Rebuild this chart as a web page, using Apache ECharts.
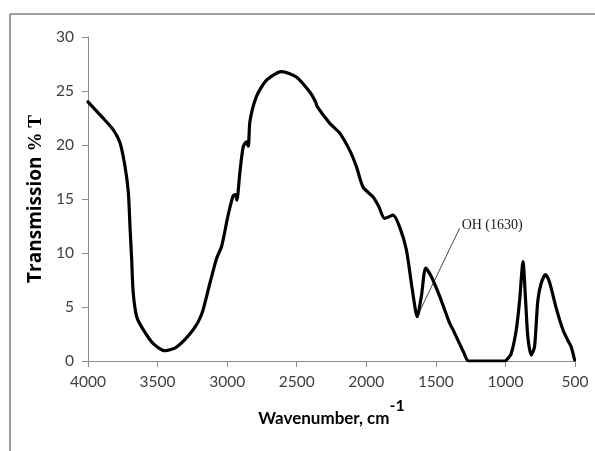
<!DOCTYPE html>
<html>
<head>
<meta charset="utf-8">
<script src="https://cdn.jsdelivr.net/npm/echarts@6/dist/echarts.min.js"></script>
<style>
  html, body { margin: 0; padding: 0; background: #ffffff; }
  #chart { width: 595px; height: 451px; }
</style>
</head>
<body>
<div id="chart"></div>
<script>
// FTIR spectrum: wavenumber (cm^-1) against transmission (%T)
const wavenumbers = [
  4000, 3900, 3818, 3770, 3734, 3710, 3698, 3686, 3675, 3650,
  3603, 3531, 3447, 3363, 3244, 3184, 3124, 3076, 3040, 2993,
  2957, 2940, 2930, 2909, 2885, 2862, 2848, 2836, 2789, 2717,
  2609, 2502, 2406, 2365, 2350, 2262, 2191, 2119, 2071, 2023,
  1952, 1910, 1868, 1808, 1760, 1712, 1676, 1648, 1635, 1604,
  1573, 1532, 1473, 1401, 1377, 1300, 1265, 1006, 985, 958,
  922, 898, 874, 855, 839, 815, 791, 767, 743, 712,
  683, 635, 587, 551, 527, 503
];
const transmission = [
  24.0, 22.6, 21.4, 20.2, 18.0, 15.6, 12.4, 9.35, 6.3, 4.1,
  2.9, 1.6, 0.95, 1.3, 2.9, 4.3, 7.2, 9.5, 10.6, 13.5,
  15.3, 15.4, 14.9, 17.4, 19.8, 20.3, 19.9, 22.2, 24.5, 26.0,
  26.8, 26.3, 24.9, 24.0, 23.5, 22.0, 21.1, 19.5, 18.0, 16.1,
  15.2, 14.3, 13.2, 13.5, 12.4, 10.3, 7.2, 4.8, 4.1, 6.0,
  8.6, 7.8, 6.0, 3.5, 2.9, 0.8, 0.0, 0.0, 0.2, 0.7,
  2.9, 5.6, 9.2, 5.6, 2.25, 0.55, 1.3, 5.6, 7.2, 8.0,
  7.3, 4.9, 2.9, 1.9, 1.3, 0.1
];

// Axis ranges and ticks
const xTicks = [4000, 3500, 3000, 2500, 2000, 1500, 1000, 500];
const yTicks = [0, 5, 10, 15, 20, 25, 30];

// Band annotation: leader line from the band towards its label
const bandLabel = 'OH (1630)';
const bandLeaderStart = [1616, 4.6];
const bandLeaderEnd = [1329, 12.3];

const spectrum = wavenumbers.map((w, i) => [w, transmission[i]]);

const chart = echarts.init(document.getElementById('chart'), null, { renderer: 'canvas' });

const axisGray = '#8c8c8c';
const labelGray = '#404040';

chart.setOption({
  animation: false,
  backgroundColor: '#ffffff',
  graphic: [
    { type: 'line', shape: { x1: 10, y1: 14, x2: 595, y2: 14 }, style: { stroke: '#808080', lineWidth: 1.6 } },
    { type: 'line', shape: { x1: 10, y1: 14, x2: 10, y2: 451 }, style: { stroke: '#808080', lineWidth: 1.6 } }
  ],
  grid: { left: 88, right: 20, top: 37, bottom: 90, containLabel: false },
  xAxis: {
    type: 'value',
    inverse: true,
    min: xTicks[xTicks.length - 1],
    max: xTicks[0],
    interval: 500,
    axisLine: { show: true, onZero: false, lineStyle: { color: axisGray, width: 1 } },
    axisTick: { show: true, length: 6, lineStyle: { color: axisGray } },
    splitLine: { show: false },
    axisLabel: {
      color: labelGray, fontFamily: 'Lato', fontSize: 15.5, margin: 13,
      formatter: (v) => String(v)
    },
    name: '{main|Wavenumber, cm}{sup|-1}',
    nameLocation: 'middle',
    nameGap: 37,
    nameTextStyle: {
      rich: {
        main: { fontFamily: 'Lato', fontWeight: 'bold', fontSize: 17, color: '#000', lineHeight: 29, verticalAlign: 'bottom' },
        sup: { fontFamily: 'Lato', fontWeight: 'bold', fontSize: 16, color: '#000', lineHeight: 16, verticalAlign: 'top', padding: [0, 0, 0, 0] }
      }
    }
  },
  yAxis: {
    type: 'value',
    min: yTicks[0],
    max: yTicks[yTicks.length - 1],
    interval: 5,
    axisLine: { show: true, lineStyle: { color: axisGray, width: 1 } },
    axisTick: { show: true, length: 6, lineStyle: { color: axisGray } },
    splitLine: { show: false },
    axisLabel: { color: labelGray, fontFamily: 'Lato', fontSize: 15.5, margin: 14 },
    name: '{main|Transmission }{serif|% T}',
    nameLocation: 'middle',
    nameGap: 29,
    nameTextStyle: {
      rich: {
        main: { fontFamily: 'Open Sans', fontWeight: 'bold', fontSize: 19, color: '#000' },
        serif: { fontFamily: 'Liberation Serif', fontWeight: 'bold', fontSize: 19, color: '#000' }
      }
    }
  },
  series: [
    {
      type: 'line',
      data: spectrum,
      showSymbol: false,
      smooth: 0.25,
      lineStyle: { color: '#000000', width: 3.2, join: 'round', cap: 'round' },
      markLine: {
        silent: true,
        symbol: ['none', 'none'],
        label: { show: false },
        lineStyle: { color: '#1a1a1a', width: 0.8, type: 'solid' },
        data: [[{ coord: bandLeaderStart }, { coord: bandLeaderEnd }]]
      },
      markPoint: {
        silent: true,
        symbol: 'circle',
        symbolSize: 0,
        label: {
          show: true,
          position: 'right',
          distance: 2,
          offset: [0, -3],
          formatter: bandLabel,
          fontFamily: 'Liberation Serif',
          fontSize: 14,
          color: '#1a1a1a'
        },
        data: [{ coord: bandLeaderEnd }]
      }
    }
  ]
});
</script>
</body>
</html>
